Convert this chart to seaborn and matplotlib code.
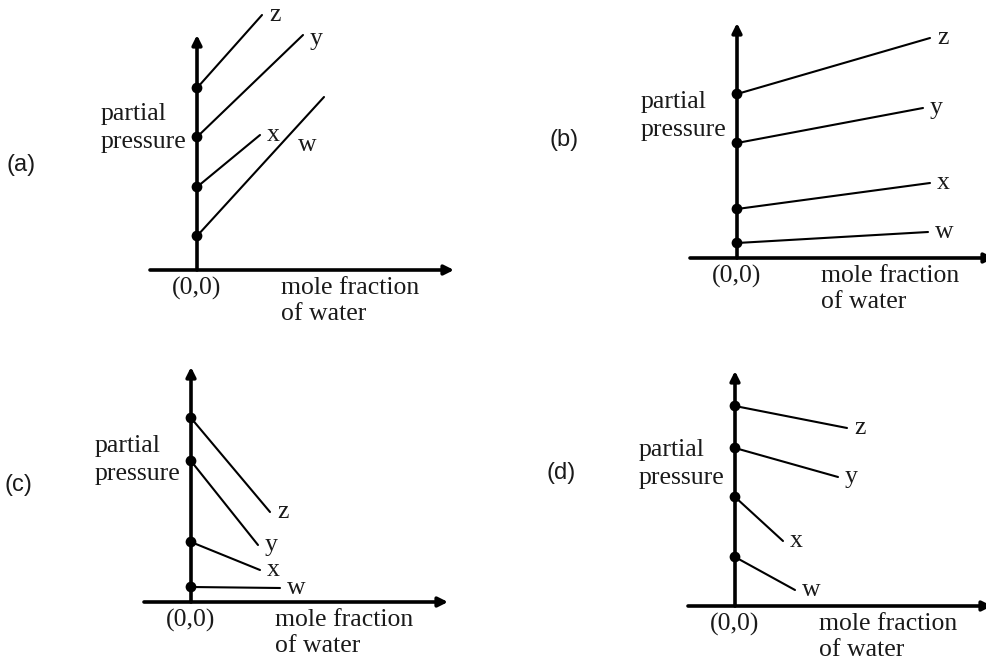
import pandas as pd
import seaborn as sns
import matplotlib.pyplot as plt

# four candidate sketches of partial pressure vs mole fraction of water
panels = ['(a)', '(b)', '(c)', '(d)']
liquids = ['w', 'x', 'y', 'z']

# partial pressure where each line meets the pressure axis (mole fraction of water = 0)
p_start_a = [0.34, 0.83, 1.33, 1.82]
p_start_b = [0.15, 0.49, 1.15, 1.64]
p_start_c = [0.15, 0.60, 1.41, 1.84]
p_start_d = [0.49, 1.09, 1.58, 2.00]

# where each line ends: mole fraction of water and partial pressure
xw_end_a = [1.27, 0.63, 1.06, 0.65]
p_end_a = [1.73, 1.35, 2.35, 2.55]
xw_end_b = [1.91, 1.93, 1.86, 1.93]
p_end_b = [0.26, 0.75, 1.50, 2.20]
xw_end_c = [0.89, 0.69, 0.67, 0.79]
p_end_c = [0.14, 0.32, 0.57, 0.90]
xw_end_d = [0.60, 0.48, 1.03, 1.12]
p_end_d = [0.16, 0.65, 1.29, 1.78]

starts = {'(a)': p_start_a, '(b)': p_start_b, '(c)': p_start_c, '(d)': p_start_d}
ends = {'(a)': (xw_end_a, p_end_a), '(b)': (xw_end_b, p_end_b),
        '(c)': (xw_end_c, p_end_c), '(d)': (xw_end_d, p_end_d)}

rows = []
for panel in panels:
    xe, pe = ends[panel]
    for i, liq in enumerate(liquids):
        rows.append({'panel': panel, 'liquid': liq, 'xw': 0.0, 'p': starts[panel][i]})
        rows.append({'panel': panel, 'liquid': liq, 'xw': xe[i], 'p': pe[i]})
df = pd.DataFrame(rows)

# layout: pixel position of each origin, 100 px per unit
W, H = 987, 660
SCALE = 100
origin_px = {'(a)': (197, 270), '(b)': (737, 258), '(c)': (191, 602), '(d)': (735, 606)}
XLIM = (-2.0, 2.7)
YLIM = (-0.6, 2.7)
letter_pos = {'(a)': (-1.90, 1.05), '(b)': (-1.87, 1.18), '(c)': (-1.86, 1.17), '(d)': (-1.88, 1.33)}
label_offset = {('(a)', 'w'): (-19, -39), ('(a)', 'y'): (5, -7)}

sns.set_style('white')
plt.rcParams['font.family'] = ['Liberation Serif', 'DejaVu Serif']
TXT = '#1a1a1a'

fig = plt.figure(figsize=(W / 100, H / 100), dpi=100)

for panel in panels:
    ox, oy = origin_px[panel]
    left = (ox + XLIM[0] * SCALE) / W
    bottom = 1 - (oy - YLIM[0] * SCALE) / H
    ax = fig.add_axes([left, bottom, (XLIM[1] - XLIM[0]) * SCALE / W,
                       (YLIM[1] - YLIM[0]) * SCALE / H])
    sub = df[df['panel'] == panel]

    sns.lineplot(data=sub, x='xw', y='p', units='liquid', estimator=None,
                 color='black', lw=1.5, ax=ax, legend=False)
    sns.scatterplot(data=sub[sub['xw'] == 0], x='xw', y='p', color='black',
                    s=60, edgecolor='none', ax=ax, zorder=5, legend=False)

    # axes with arrow heads
    arrow = dict(arrowstyle='-|>', lw=2.6, color='black', mutation_scale=14,
                 shrinkA=0, shrinkB=0)
    ax.annotate('', xy=(2.57, 0), xytext=(-0.47, 0), arrowprops=arrow)
    ax.annotate('', xy=(0, 2.35), xytext=(0, 0), arrowprops=arrow)

    # line labels
    for _, r in sub[sub['xw'] > 0].iterrows():
        off = label_offset.get((panel, r['liquid']), (5, -4))
        ax.annotate(r['liquid'], xy=(r['xw'], r['p']), xytext=off,
                    textcoords='offset points', ha='left', va='baseline',
                    fontsize=18.5, color=TXT)

    ax.text(-0.96, 1.42, 'partial\npressure', ha='left', va='center',
            fontsize=18.5, linespacing=1.38, color=TXT)
    ax.text(0, -0.07, '(0,0)', ha='center', va='top', fontsize=18.5, color=TXT)
    ax.text(0.84, -0.07, 'mole fraction\nof water', ha='left', va='top',
            fontsize=18.5, linespacing=1.22, color=TXT)
    lx, ly = letter_pos[panel]
    ax.text(lx, ly, panel, ha='left', va='center', fontsize=17,
            family=['Liberation Sans', 'DejaVu Sans'], color=TXT)

    ax.set_xlim(XLIM)
    ax.set_ylim(YLIM)
    ax.axis('off')

fig.savefig('out.png', dpi=100)
